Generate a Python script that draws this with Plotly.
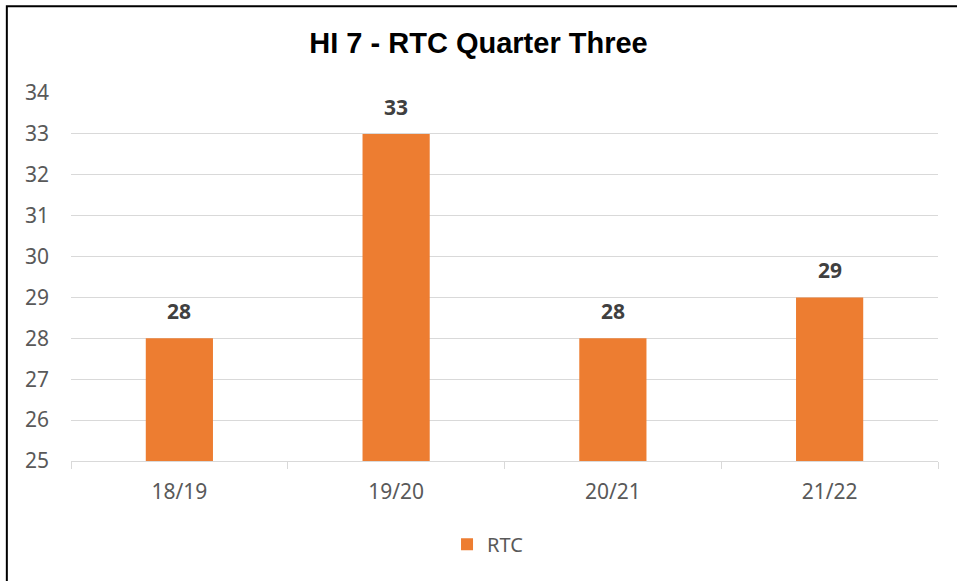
import plotly.graph_objects as go

years = ["18/19", "19/20", "20/21", "21/22"]
rtc = [28, 33, 28, 29]

fig = go.Figure(data=[
    go.Bar(
        x=years, y=rtc, name="RTC",
        marker=dict(color="#ED7D31", line=dict(width=0)),
    )
])

# data labels above the bars
for yr, v in zip(years, rtc):
    fig.add_annotation(
        x=yr, y=v, text=f"<b>{v}</b>", showarrow=False,
        yanchor="middle", yshift=27,
        font=dict(family="Noto Sans, Arial", size=21, color="#404040"),
    )

fig.update_layout(
    width=957, height=581,
    paper_bgcolor="white", plot_bgcolor="white",
    margin=dict(l=71, r=19, t=93, b=120),
    title=dict(
        text="<b>HI 7 - RTC Quarter Three</b>",
        x=0.5, xanchor="center", y=0.926, yanchor="middle",
        font=dict(family="Liberation Sans, Arial", size=29, color="black"),
    ),
    bargap=0.69,
    showlegend=True,
    legend=dict(
        orientation="h", x=0.481, xanchor="center", y=-0.226, yanchor="middle",
        font=dict(family="Noto Sans, Arial", size=20, color="#595959"),
    ),
    xaxis=dict(
        showline=True, linecolor="#D9D9D9", linewidth=1,
        ticks="outside", tickson="boundaries", ticklen=7, tickcolor="#D9D9D9",
        tickfont=dict(family="Noto Sans, Arial", size=21, color="#595959"),
        ticklabelstandoff=12,
        showgrid=False,
    ),
    yaxis=dict(
        range=[25, 34], dtick=1, tick0=25,
        showgrid=True, gridcolor="#D9D9D9", gridwidth=1,
        zeroline=False, showline=False,
        ticks="", ticklabelstandoff=21,
        tickfont=dict(family="Noto Sans, Arial", size=21, color="#595959"),
    ),
    shapes=[dict(
        type="rect", xref="paper", yref="paper",
        x0=-0.074, x1=1.03, y0=-0.34, y1=1.236,
        line=dict(color="black", width=2), fillcolor="rgba(0,0,0,0)", layer="above",
    )],
)

fig.write_html("out.html", config={"displayModeBar": False},
               post_script="document.body.style.margin='0';")
